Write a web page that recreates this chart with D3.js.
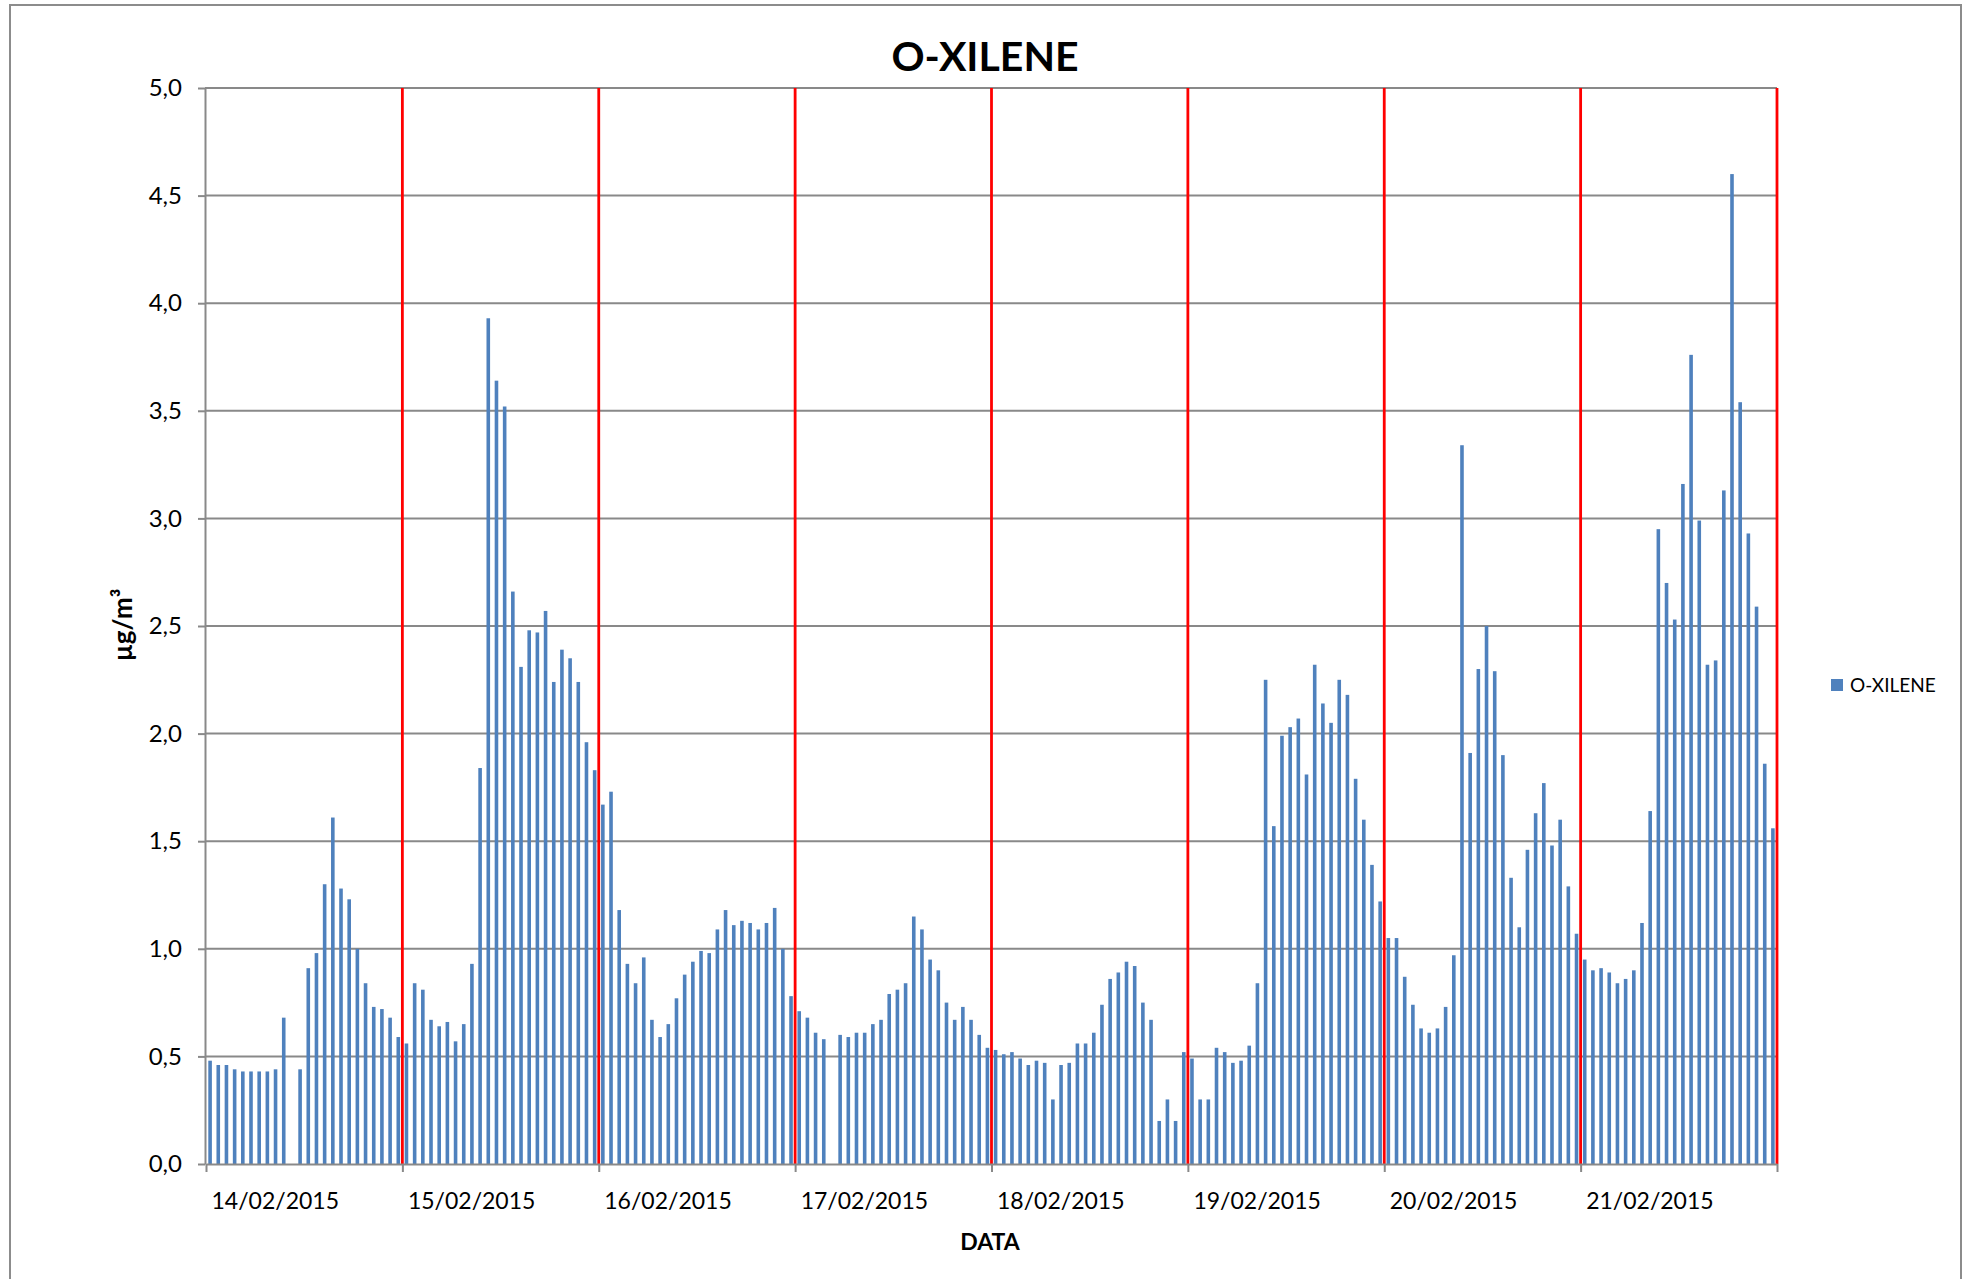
<!DOCTYPE html>
<html>
<head>
<meta charset="utf-8">
<script src="https://cdn.jsdelivr.net/npm/d3@7"></script>
<style>
body { margin: 0; background: #fff; }
svg text { font-family: Lato, "Open Sans", sans-serif; fill: #000; }
</style>
</head>
<body>
<svg id="chart" width="1968" height="1279"></svg>
<script>
// hourly values, one array per day (null = missing hour)
var days = ['14/02/2015', '15/02/2015', '16/02/2015', '17/02/2015', '18/02/2015', '19/02/2015', '20/02/2015', '21/02/2015'];
var feb14 = [0.48, 0.46, 0.46, 0.44, 0.43, 0.43, 0.43, 0.43, 0.44, 0.68, null, 0.44, 0.91, 0.98, 1.30, 1.61, 1.28, 1.23, 1.00, 0.84, 0.73, 0.72, 0.68, 0.59];
var feb15 = [0.56, 0.84, 0.81, 0.67, 0.64, 0.66, 0.57, 0.65, 0.93, 1.84, 3.93, 3.64, 3.52, 2.66, 2.31, 2.48, 2.47, 2.57, 2.24, 2.39, 2.35, 2.24, 1.96, 1.83];
var feb16 = [1.67, 1.73, 1.18, 0.93, 0.84, 0.96, 0.67, 0.59, 0.65, 0.77, 0.88, 0.94, 0.99, 0.98, 1.09, 1.18, 1.11, 1.13, 1.12, 1.09, 1.12, 1.19, 1.00, 0.78];
var feb17 = [0.71, 0.68, 0.61, 0.58, null, 0.60, 0.59, 0.61, 0.61, 0.65, 0.67, 0.79, 0.81, 0.84, 1.15, 1.09, 0.95, 0.90, 0.75, 0.67, 0.73, 0.67, 0.60, 0.54];
var feb18 = [0.53, 0.51, 0.52, 0.49, 0.46, 0.48, 0.47, 0.30, 0.46, 0.47, 0.56, 0.56, 0.61, 0.74, 0.86, 0.89, 0.94, 0.92, 0.75, 0.67, 0.20, 0.30, 0.20, 0.52];
var feb19 = [0.49, 0.30, 0.30, 0.54, 0.52, 0.47, 0.48, 0.55, 0.84, 2.25, 1.57, 1.99, 2.03, 2.07, 1.81, 2.32, 2.14, 2.05, 2.25, 2.18, 1.79, 1.60, 1.39, 1.22];
var feb20 = [1.05, 1.05, 0.87, 0.74, 0.63, 0.61, 0.63, 0.73, 0.97, 3.34, 1.91, 2.30, 2.50, 2.29, 1.90, 1.33, 1.10, 1.46, 1.63, 1.77, 1.48, 1.60, 1.29, 1.07];
var feb21 = [0.95, 0.90, 0.91, 0.89, 0.84, 0.86, 0.90, 1.12, 1.64, 2.95, 2.70, 2.53, 3.16, 3.76, 2.99, 2.32, 2.34, 3.13, 4.60, 3.54, 2.93, 2.59, 1.86, 1.56];
var yTicks = [0, 0.5, 1, 1.5, 2, 2.5, 3, 3.5, 4, 4.5, 5];
var seriesName = 'O-XILENE';

var values = [].concat(feb14, feb15, feb16, feb17, feb18, feb19, feb20, feb21);
var start = Date.UTC(2015, 1, 14);
var hour = 3600 * 1000;

var data = [];
values.forEach(function (v, i) {
    if (v != null) data.push({ t: new Date(start + i * hour), v: v });
});
var dayDates = d3.range(days.length + 1).map(function (k) {
    return new Date(start + k * 24 * hour);
});

var plot = { left: 206, right: 1777, top: 88, bottom: 1164 };
var grey = '#898989';

var svg = d3.select('#chart');

// outer frame
svg.append('rect')
    .attr('x', 10).attr('y', 5)
    .attr('width', 1951).attr('height', 1320)
    .attr('fill', 'none')
    .attr('stroke', '#8c8c8c')
    .attr('stroke-width', 2);

var x = d3.scaleUtc()
    .domain([dayDates[0], dayDates[days.length]])
    .range([plot.left, plot.right]);

var y = d3.scaleLinear()
    .domain([0, 5])
    .range([plot.bottom, plot.top]);

// horizontal gridlines
svg.append('g')
    .selectAll('line')
    .data(yTicks.filter(function (d) { return d > 0; }))
    .enter()
    .append('line')
    .attr('x1', plot.left - 1)
    .attr('x2', plot.right)
    .attr('y1', function (d) { return y(d); })
    .attr('y2', function (d) { return y(d); })
    .attr('stroke', grey)
    .attr('stroke-width', 2);

// bars
var barW = 3.6;
svg.append('g')
    .selectAll('rect')
    .data(data)
    .enter()
    .append('rect')
    .attr('x', function (d) { return x(new Date(+d.t + hour / 2)) - barW / 2; })
    .attr('y', function (d) { return y(d.v); })
    .attr('width', barW)
    .attr('height', function (d) { return y(0) - y(d.v); })
    .attr('fill', '#4F81BD');

// red day separators
svg.append('g')
    .selectAll('line')
    .data(dayDates.slice(1))
    .enter()
    .append('line')
    .attr('x1', function (d) { return x(d); })
    .attr('x2', function (d) { return x(d); })
    .attr('y1', plot.top)
    .attr('y2', plot.bottom)
    .attr('stroke', '#FF0000')
    .attr('stroke-width', 2.8);

// y axis
var yAxis = d3.axisLeft(y)
    .tickValues(yTicks)
    .tickSize(7)
    .tickSizeOuter(0)
    .tickPadding(16)
    .tickFormat(function (d) { return d.toFixed(1).replace('.', ','); });

var gy = svg.append('g')
    .attr('transform', 'translate(' + (plot.left - 1) + ',0)')
    .call(yAxis);
gy.selectAll('path, line').attr('stroke', grey).attr('stroke-width', 2);
gy.selectAll('text').attr('font-size', 24).attr('font-family', 'Lato');

// x axis
var xAxis = d3.axisBottom(x)
    .tickValues(dayDates)
    .tickSize(8)
    .tickSizeOuter(0)
    .tickFormat(function (d, i) { return i < days.length ? days[i] : ''; });

var gx = svg.append('g')
    .attr('transform', 'translate(0,' + plot.bottom + ')')
    .call(xAxis);
gx.selectAll('path, line').attr('stroke', grey).attr('stroke-width', 2);
gx.selectAll('text')
    .attr('font-size', 23)
    .attr('font-family', 'Lato')
    .attr('text-anchor', 'start')
    .attr('x', 5)
    .attr('y', 45)
    .attr('dy', 0);

// titles
svg.append('text')
    .attr('x', 985)
    .attr('y', 71)
    .attr('text-anchor', 'middle')
    .attr('font-size', 41)
    .attr('font-weight', 'bold')
    .text(seriesName);

svg.append('text')
    .attr('x', 990)
    .attr('y', 1250)
    .attr('text-anchor', 'middle')
    .attr('font-size', 23)
    .attr('font-weight', 'bold')
    .text('DATA');

svg.append('text')
    .attr('transform', 'translate(132,625) rotate(-90)')
    .attr('text-anchor', 'middle')
    .attr('font-size', 26)
    .attr('font-weight', 'bold')
    .text('µg/m³');

// legend
svg.append('rect')
    .attr('x', 1831).attr('y', 679)
    .attr('width', 12).attr('height', 12)
    .attr('fill', '#4F81BD');
svg.append('text')
    .attr('x', 1850)
    .attr('y', 692)
    .attr('font-size', 19)
    .text(seriesName);
</script>
</body>
</html>
